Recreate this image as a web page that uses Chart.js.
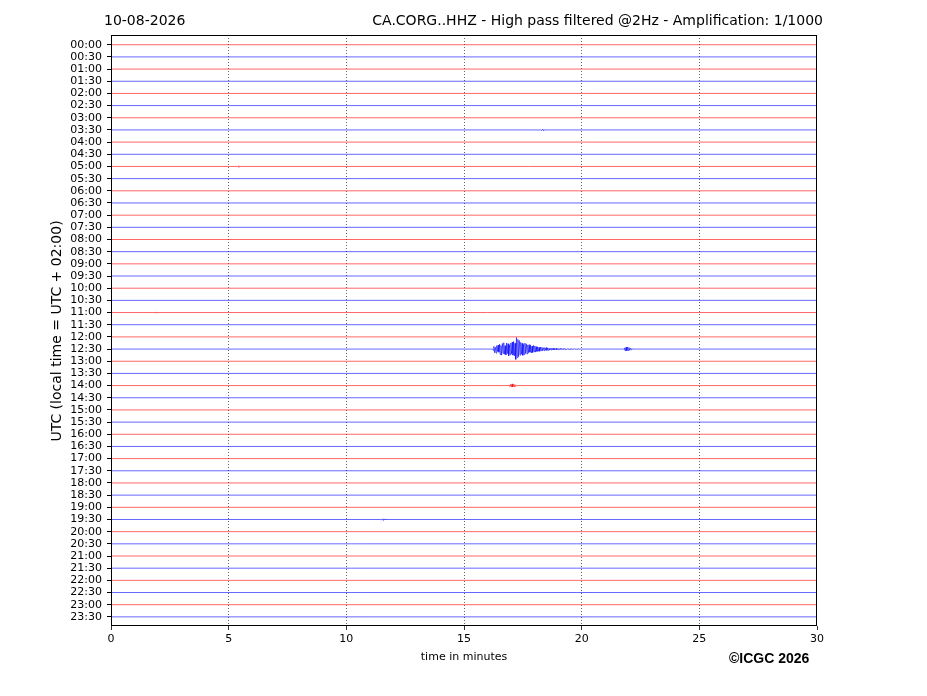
<!DOCTYPE html>
<html>
<head>
<meta charset="utf-8">
<script src="https://cdn.jsdelivr.net/npm/chart.js@4/dist/chart.umd.min.js"></script>
<style>
  html, body { margin: 0; padding: 0; background: #fff; }
  #wrap { width: 927px; height: 696px; }
</style>
</head>
<body>
<div id="wrap"><canvas id="heli" width="927" height="696"></canvas></div>
<script>
// one trace per half hour, read top to bottom
const hourLabels = [
    '00:00', '00:30', '01:00', '01:30', '02:00', '02:30', '03:00', '03:30',
    '04:00', '04:30', '05:00', '05:30', '06:00', '06:30', '07:00', '07:30',
    '08:00', '08:30', '09:00', '09:30', '10:00', '10:30', '11:00', '11:30',
    '12:00', '12:30', '13:00', '13:30', '14:00', '14:30', '15:00', '15:30',
    '16:00', '16:30', '17:00', '17:30', '18:00', '18:30', '19:00', '19:30',
    '20:00', '20:30', '21:00', '21:30', '22:00', '22:30', '23:00', '23:30',
];
const minuteTicks = [0, 5, 10, 15, 20, 25, 30];

const STEP = 0.03;
const quakeTrace = 25;            // 12:30
const quakeStart = 16.24;
const quakeValues = [
    0.1, -0.22, 0.3, -0.15, 0.34, -0.28, 0.2, -0.33, 0.26,
    -0.4, 0.45, -0.3, 0.5, -0.46, 0.36, -0.52, 0.42, -0.28, 0.48, -0.5, 0.38, -0.44, 0.55, -0.35, 0.47, -0.5, 0.4,
    -0.58, 0.5, -0.62, 0.56, -0.48,
    0.85, -0.95, 0.7, -0.8, 0.62, -0.7,
    0.5, -0.55, 0.42, -0.48, 0.52, -0.38, 0.45, -0.5, 0.36, -0.42, 0.4,
    -0.34, 0.3, -0.36, 0.26, -0.3, 0.32, -0.24, 0.28, -0.3, 0.22, -0.26, 0.25, -0.2,
    0.2, -0.17, 0.19, -0.14, 0.18, -0.16, 0.13, -0.15, 0.14, -0.11, 0.13, -0.12, 0.1, -0.12, 0.11,
    -0.09, 0.1, -0.08, 0.09, -0.07, 0.08, -0.08, 0.06, -0.07, 0.07, -0.05, 0.06, -0.06, 0.05, -0.05,
    0.05, -0.04, 0.04, -0.05, 0.03, -0.04, 0.04, -0.03, 0.03, -0.04, 0.03, -0.03, 0.04, -0.03, 0.02, -0.03,
    0.03, -0.02, 0.03, -0.02, 0.02, -0.03, 0.02, -0.02, 0.02, -0.02, 0.02, -0.01, 0.02, -0.02, 0.01, -0.01, 0,
];
const aftershockStart = 21.8;
const aftershockValues = [0.05, -0.1, 0.15, -0.16, 0.14, -0.17, 0.12, -0.12, 0.1, -0.08, 0.06, -0.04];

const blipTrace = 28;             // 14:00
const blipStart = 16.95;
const blipValues = [0.05, -0.1, 0.12, -0.14, 0.12, -0.1, 0.1, -0.08, 0.06];

const speckTraces = [7, 39, 22, 10];
const speckStarts = [18.3, 11.5, 1.9, 5.4];
const speckValues = [
    [0.04, -0.06, 0.05, -0.04],
    [0.04, -0.05, 0.06, -0.05, 0.04, -0.04],
    [0.03, -0.05, 0.04],
    [0.04, -0.06, 0.05],
];

function burst(trace, start, values) {
    const pts = [{ x: start - STEP, y: trace }];
    values.forEach((v, k) => pts.push({ x: start + k * STEP, y: trace + v }));
    pts.push({ x: start + values.length * STEP, y: trace });
    return pts;
}

const bursts = hourLabels.map(() => []);
bursts[quakeTrace].push(burst(quakeTrace, quakeStart, quakeValues));
bursts[quakeTrace].push(burst(quakeTrace, aftershockStart, aftershockValues));
bursts[blipTrace].push(burst(blipTrace, blipStart, blipValues));
speckTraces.forEach((t, n) => bursts[t].push(burst(t, speckStarts[n], speckValues[n])));

const datasets = hourLabels.map((label, i) => {
    const pts = [{ x: 0, y: i }];
    bursts[i].sort((a, b) => a[0].x - b[0].x).forEach(b => pts.push(...b));
    pts.push({ x: 30, y: i });
    return {
        label: label,
        data: pts,
        borderColor: i % 2 === 0 ? 'rgba(255,0,0,0.6)' : 'rgba(0,0,255,0.6)',
        borderWidth: 1,
        pointRadius: 0,
        tension: 0,
    };
});

const frame = {
    id: 'frame',
    afterDraw(chart) {
        const { ctx, chartArea: a } = chart;
        ctx.save();
        ctx.strokeStyle = '#000';
        ctx.lineWidth = 1;
        ctx.strokeRect(a.left + 0.5, a.top + 0.5, a.right - a.left - 1, a.bottom - a.top - 1);

        ctx.fillStyle = '#000';
        ctx.font = '14px "DejaVu Sans"';
        ctx.textBaseline = 'alphabetic';
        ctx.textAlign = 'left';
        ctx.fillText('10-08-2026', 104, 25);
        ctx.textAlign = 'right';
        ctx.fillText('CA.CORG..HHZ - High pass filtered @2Hz - Amplification: 1/1000', 823, 25);

        ctx.font = '11px "DejaVu Sans"';
        ctx.textAlign = 'center';
        ctx.textBaseline = 'middle';
        ctx.fillText('time in minutes', 464, 657);

        ctx.font = 'bold 14px "Liberation Sans"';
        ctx.textAlign = 'left';
        ctx.fillText('\u00a9ICGC 2026', 729, 659);

        ctx.translate(57, 331);
        ctx.rotate(-Math.PI / 2);
        ctx.font = '14px "DejaVu Sans"';
        ctx.textAlign = 'center';
        ctx.fillText('UTC (local time = UTC + 02:00)', 0, 0);
        ctx.restore();
    },
};

new Chart(document.getElementById('heli'), {
    type: 'line',
    data: { datasets },
    options: {
        responsive: false,
        animation: false,
        devicePixelRatio: 1,
        layout: { padding: { left: 0, right: 110, top: 35, bottom: 0 } },
        plugins: { legend: { display: false }, tooltip: { enabled: false } },
        scales: {
            x: {
                type: 'linear',
                min: 0,
                max: 30,
                afterBuildTicks: s => { s.ticks = minuteTicks.map(v => ({ value: v })); },
                afterFit: s => { s.height = 70; },
                ticks: { color: '#000', font: { family: 'DejaVu Sans', size: 11 }, padding: 3, maxRotation: 0 },
                grid: {
                    color: c => (c.tick && (c.tick.value === 0 || c.tick.value === 30)) ? 'rgba(0,0,0,0)' : 'rgba(0,0,0,0.75)',
                    tickColor: '#000',
                    lineWidth: 0.8,
                    tickLength: 4,
                },
                border: { display: false, dash: [1, 2] },
            },
            y: {
                type: 'linear',
                reverse: true,
                min: -0.8,
                max: 47.75,
                afterBuildTicks: s => { s.ticks = hourLabels.map((_, i) => ({ value: i })); },
                afterFit: s => { s.width = 111; },
                ticks: {
                    color: '#000',
                    font: { family: 'DejaVu Sans', size: 11 },
                    padding: 5,
                    autoSkip: false,
                    callback: v => hourLabels[v],
                },
                grid: { drawOnChartArea: false, tickColor: '#000', tickLength: 4 },
                border: { display: false },
            },
        },
    },
    plugins: [frame],
});
</script>
</body>
</html>
